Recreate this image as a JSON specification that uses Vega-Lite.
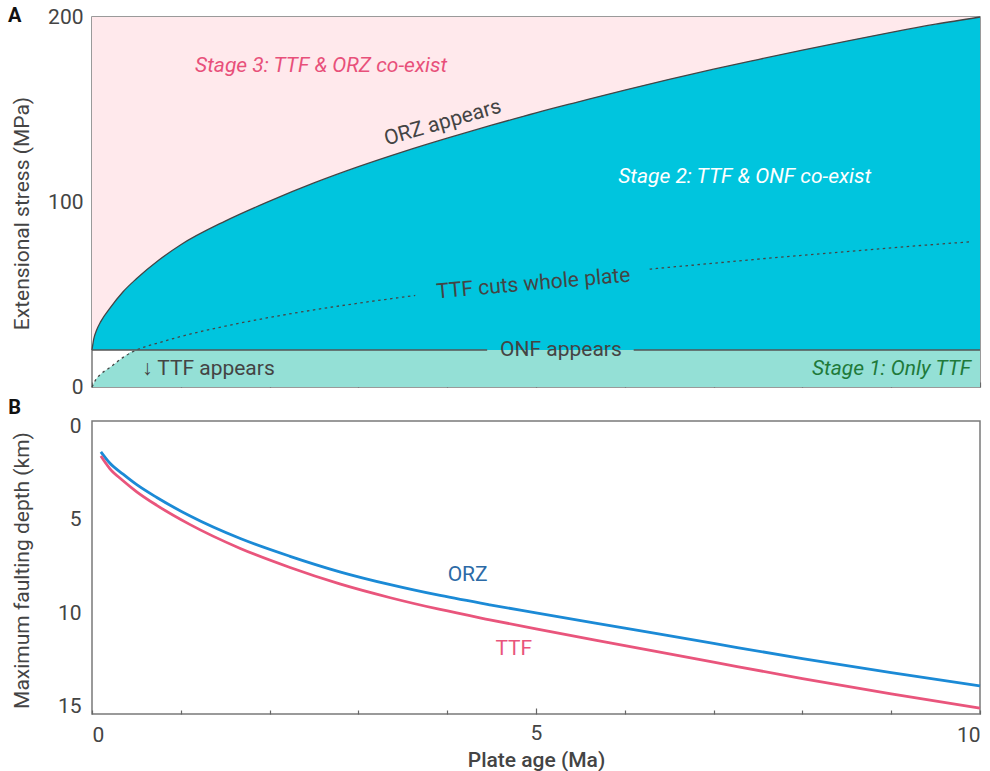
{
  "$schema": "https://vega.github.io/schema/vega-lite/v6.json",
  "background": "white",
  "padding": {"left": 7, "top": 5, "right": 3, "bottom": 5},
  "bounds": "flush",
  "spacing": 34,
  "config": {
    "font": "Roboto",
    "view": {"stroke": "#7a7a7a", "strokeWidth": 1.5},
    "axis": {"grid": false, "domain": false, "labelFont": "Roboto", "titleFont": "Roboto", "labelColor": "#444444", "titleColor": "#444444", "labelFontSize": 21, "titleFontSize": 21, "titleFontWeight": "normal", "tickColor": "#666666", "tickWidth": 1.2}
  },
  "datasets": {
    "orz": [
      {"t": 0, "s": 20}, {"t": 0.02, "s": 26}, {"t": 0.05, "s": 30.5}, {"t": 0.1, "s": 35.5}, {"t": 0.2, "s": 42.5},
      {"t": 0.35, "s": 51.5}, {"t": 0.5, "s": 58.5}, {"t": 0.75, "s": 68.5}, {"t": 1, "s": 76.9}, {"t": 1.5, "s": 89.7},
      {"t": 2, "s": 100.5}, {"t": 2.5, "s": 110.3}, {"t": 3, "s": 119.1}, {"t": 3.5, "s": 127.1}, {"t": 4, "s": 134.5},
      {"t": 4.5, "s": 141.5}, {"t": 5, "s": 148.2}, {"t": 5.5, "s": 154.4}, {"t": 6, "s": 160.5}, {"t": 6.5, "s": 166.3},
      {"t": 7, "s": 171.8}, {"t": 7.5, "s": 177}, {"t": 8, "s": 182.1}, {"t": 8.5, "s": 187}, {"t": 9, "s": 191.7},
      {"t": 9.5, "s": 196.1}, {"t": 10, "s": 200}
    ],
    "ttf": [
      {"t": 0, "s": 0, "seg": "a"}, {"t": 0.05, "s": 4.5, "seg": "a"}, {"t": 0.1, "s": 7, "seg": "a"}, {"t": 0.2, "s": 10.5, "seg": "a"},
      {"t": 0.35, "s": 16, "seg": "a"}, {"t": 0.5, "s": 20, "seg": "a"}, {"t": 0.75, "s": 23.9, "seg": "a"}, {"t": 1, "s": 27.3, "seg": "a"},
      {"t": 1.5, "s": 32.9, "seg": "a"}, {"t": 2, "s": 37.6, "seg": "a"}, {"t": 2.5, "s": 41.7, "seg": "a"}, {"t": 3, "s": 45.3, "seg": "a"},
      {"t": 3.5, "s": 48.6, "seg": "a"}, {"t": 3.64, "s": 49.5, "seg": "a"},
      {"t": 6.28, "s": 63.7, "seg": "b"}, {"t": 6.5, "s": 64.7, "seg": "b"}, {"t": 7, "s": 66.9, "seg": "b"}, {"t": 7.5, "s": 69.1, "seg": "b"},
      {"t": 8, "s": 71.2, "seg": "b"}, {"t": 8.5, "s": 73.2, "seg": "b"}, {"t": 9, "s": 75.2, "seg": "b"}, {"t": 9.5, "s": 77.1, "seg": "b"},
      {"t": 9.9, "s": 78.5, "seg": "b"}
    ],
    "teal": [
      {"t": 0, "s": 0}, {"t": 0.05, "s": 4.5}, {"t": 0.1, "s": 7}, {"t": 0.2, "s": 10.5}, {"t": 0.35, "s": 16}, {"t": 0.5, "s": 20}, {"t": 10, "s": 20}
    ],
    "onf": [
      {"t": 0, "t2": 4.45, "s": 20}, {"t": 6.1, "t2": 10, "s": 20}
    ],
    "depth": [
      {"t": 0.1, "d": 1.35, "series": "ORZ"}, {"t": 0.2, "d": 1.95, "series": "ORZ"}, {"t": 0.35, "d": 2.55, "series": "ORZ"},
      {"t": 0.5, "d": 3.1, "series": "ORZ"}, {"t": 0.73, "d": 3.8, "series": "ORZ"}, {"t": 1.1, "d": 4.78, "series": "ORZ"},
      {"t": 1.67, "d": 6.0, "series": "ORZ"}, {"t": 2.23, "d": 6.95, "series": "ORZ"}, {"t": 2.79, "d": 7.78, "series": "ORZ"},
      {"t": 3.36, "d": 8.47, "series": "ORZ"}, {"t": 3.92, "d": 9.05, "series": "ORZ"}, {"t": 4.48, "d": 9.55, "series": "ORZ"},
      {"t": 5, "d": 9.98, "series": "ORZ"}, {"t": 6, "d": 10.8, "series": "ORZ"}, {"t": 7, "d": 11.62, "series": "ORZ"},
      {"t": 8, "d": 12.43, "series": "ORZ"}, {"t": 9, "d": 13.18, "series": "ORZ"}, {"t": 10, "d": 13.89, "series": "ORZ"},
      {"t": 0.1, "d": 1.58, "series": "TTF"}, {"t": 0.2, "d": 2.25, "series": "TTF"}, {"t": 0.35, "d": 2.9, "series": "TTF"},
      {"t": 0.5, "d": 3.48, "series": "TTF"}, {"t": 0.73, "d": 4.22, "series": "TTF"}, {"t": 1.1, "d": 5.24, "series": "TTF"},
      {"t": 1.67, "d": 6.53, "series": "TTF"}, {"t": 2.23, "d": 7.55, "series": "TTF"}, {"t": 2.79, "d": 8.43, "series": "TTF"},
      {"t": 3.36, "d": 9.17, "series": "TTF"}, {"t": 3.92, "d": 9.8, "series": "TTF"}, {"t": 4.48, "d": 10.35, "series": "TTF"},
      {"t": 5, "d": 10.84, "series": "TTF"}, {"t": 6, "d": 11.73, "series": "TTF"}, {"t": 7, "d": 12.62, "series": "TTF"},
      {"t": 8, "d": 13.5, "series": "TTF"}, {"t": 9, "d": 14.32, "series": "TTF"}, {"t": 10, "d": 15.09, "series": "TTF"}
    ]
  },
  "vconcat": [
    {
      "width": 888,
      "height": 370,
      "encoding": {
        "x": {"field": "t", "type": "quantitative", "scale": {"domain": [0, 10], "nice": false},
              "axis": {"values": [0, 1, 2, 3, 4, 5, 6, 7, 8, 9, 10], "labels": false, "title": null,
                       "tickSize": {"condition": {"test": "datum.value === 5", "value": -8}, "value": -5}}},
        "y": {"field": "s", "type": "quantitative", "scale": {"domain": [0, 200], "nice": false},
              "axis": {"values": [0, 100, 200], "ticks": false, "labelPadding": 9, "title": "Extensional stress (MPa)",
                       "titleX": -64, "titleY": 196, "titleBaseline": "alphabetic", "titleAngle": 270}}
      },
      "layer": [
        {"data": {"name": "orz"}, "mark": {"type": "area", "color": "#ffe9ec", "opacity": 1, "interpolate": "monotone"}, "encoding": {"y2": {"datum": 200}}},
        {"data": {"name": "orz"}, "mark": {"type": "area", "color": "#00c5de", "opacity": 1, "interpolate": "monotone"}, "encoding": {"y2": {"datum": 20}}},
        {"data": {"name": "teal"}, "mark": {"type": "area", "color": "#94e0d6", "opacity": 1, "interpolate": "monotone"}, "encoding": {"y2": {"datum": 0}}},
        {"data": {"name": "orz"}, "mark": {"type": "line", "color": "#454545", "strokeWidth": 1.3, "interpolate": "monotone"}, "encoding": {}},
        {"data": {"name": "ttf"}, "mark": {"type": "line", "color": "#454545", "strokeWidth": 1.3, "strokeDash": [2.5, 3.5], "interpolate": "monotone"}, "encoding": {"detail": {"field": "seg"}}},
        {"data": {"name": "onf"}, "mark": {"type": "rule", "color": "#555555", "strokeWidth": 1.4}, "encoding": {"x2": {"field": "t2"}}},
        {"data": {"values": [{"t": 2.58, "s": 173.5, "label": "Stage 3: TTF & ORZ co-exist"}]},
         "mark": {"type": "text", "color": "#e8507a", "fontSize": 21, "fontStyle": "italic", "align": "center", "baseline": "middle"},
         "encoding": {"text": {"field": "label"}}},
        {"data": {"values": [{"t": 7.35, "s": 113.5, "label": "Stage 2: TTF & ONF co-exist"}]},
         "mark": {"type": "text", "color": "white", "fontSize": 21, "fontStyle": "italic", "align": "center", "baseline": "middle"},
         "encoding": {"text": {"field": "label"}}},
        {"data": {"values": [{"t": 9.9, "s": 9.7, "label": "Stage 1: Only TTF"}]},
         "mark": {"type": "text", "color": "#1f7a3a", "fontSize": 21, "fontStyle": "italic", "align": "right", "baseline": "middle"},
         "encoding": {"text": {"field": "label"}}},
        {"data": {"values": [{"t": 3.95, "s": 142.7, "label": "ORZ appears"}]},
         "mark": {"type": "text", "color": "#444444", "fontSize": 21, "angle": -16, "align": "center", "baseline": "middle"},
         "encoding": {"text": {"field": "label"}}},
        {"data": {"values": [{"t": 4.97, "s": 55.7, "label": "TTF cuts whole plate"}]},
         "mark": {"type": "text", "color": "#444444", "fontSize": 21, "angle": -5, "align": "center", "baseline": "middle"},
         "encoding": {"text": {"field": "label"}}},
        {"data": {"values": [{"t": 5.28, "s": 20, "label": "ONF appears"}, {"t": 1.31, "s": 9.7, "label": "↓ TTF appears"}]},
         "mark": {"type": "text", "color": "#444444", "fontSize": 21, "align": "center", "baseline": "middle"},
         "encoding": {"text": {"field": "label"}}},
        {"data": {"values": [{"t": -0.87, "s": 200.5, "label": "A"}]},
         "mark": {"type": "text", "color": "#111111", "fontSize": 20, "fontWeight": "bold", "align": "center", "baseline": "middle"},
         "encoding": {"text": {"field": "label"}}}
      ]
    },
    {
      "width": 888,
      "height": 293,
      "encoding": {
        "x": {"field": "t", "type": "quantitative", "scale": {"domain": [0, 10], "nice": false},
              "axis": {"values": [0, 1, 2, 3, 4, 5, 6, 7, 8, 9, 10], "labelPadding": 14, "title": "Plate age (Ma)", "titleFontWeight": 500, "titlePadding": 4,
                       "labelExpr": "datum.value % 5 === 0 ? datum.label : ''",
                       "tickSize": {"condition": {"test": "datum.value === 5", "value": -6}, "value": -4}}},
        "y": {"field": "d", "type": "quantitative", "scale": {"domain": [15.4, -0.3], "nice": false, "zero": false},
              "axis": {"values": [0, 5, 10, 15], "ticks": false, "labelPadding": 11, "title": "Maximum faulting depth (km)",
                       "titleX": -64, "titleY": 149, "titleBaseline": "alphabetic", "titleAngle": 270}}
      },
      "layer": [
        {"data": {"name": "depth"}, "mark": {"type": "line", "strokeWidth": 2.8, "interpolate": "monotone"},
         "encoding": {"color": {"field": "series", "type": "nominal", "scale": {"domain": ["ORZ", "TTF"], "range": ["#1b8ad6", "#e9557c"]}, "legend": null}}},
        {"data": {"values": [{"t": 4.23, "d": 7.93, "label": "ORZ"}]},
         "mark": {"type": "text", "color": "#2c6aa6", "fontSize": 21, "align": "center", "baseline": "middle"},
         "encoding": {"text": {"field": "label"}}},
        {"data": {"values": [{"t": 4.75, "d": 11.94, "label": "TTF"}]},
         "mark": {"type": "text", "color": "#e9557c", "fontSize": 21, "align": "center", "baseline": "middle"},
         "encoding": {"text": {"field": "label"}}},
        {"data": {"values": [{"t": -0.87, "d": -1.0, "label": "B"}]},
         "mark": {"type": "text", "color": "#111111", "fontSize": 20, "fontWeight": "bold", "align": "center", "baseline": "middle"},
         "encoding": {"text": {"field": "label"}}}
      ]
    }
  ]
}
